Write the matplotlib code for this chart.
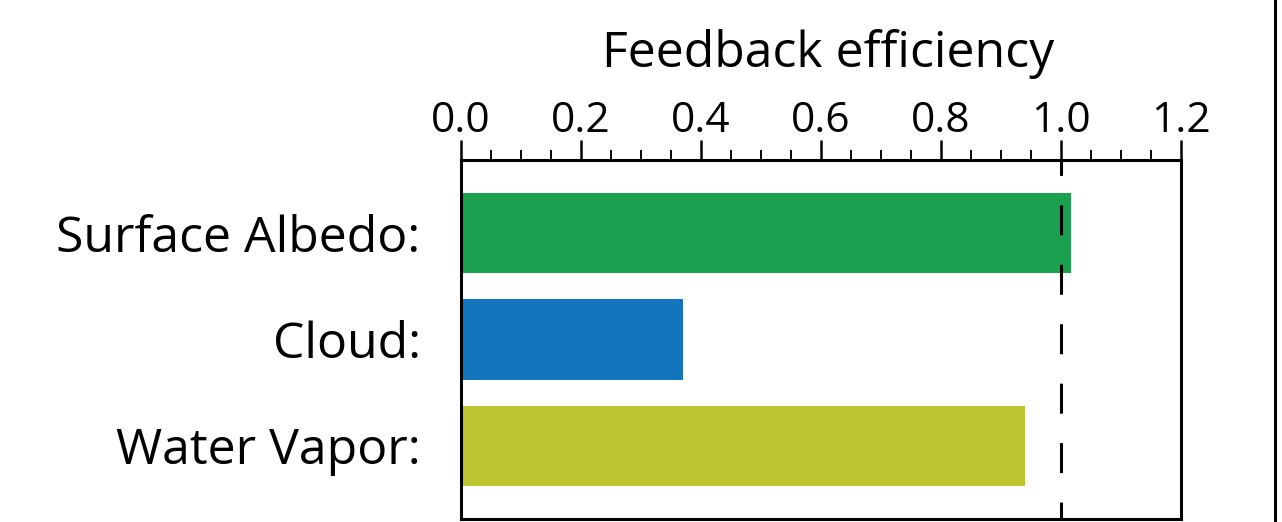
import matplotlib
matplotlib.use("Agg")
import matplotlib.pyplot as plt
from matplotlib.lines import Line2D
from matplotlib.ticker import MultipleLocator

plt.rcParams['font.family'] = ['Open Sans', 'DejaVu Sans']
plt.rcParams['lines.scale_dashes'] = False

# feedback efficiency per process
categories = ["Surface Albedo:", "Cloud:", "Water Vapor:"]
efficiency = [1.017, 0.37, 0.94]
bar_colors = ["#1ba04f", "#1375be", "#bcc432"]
xticks = [0.0, 0.2, 0.4, 0.6, 0.8, 1.0, 1.2]
xticklabels = ["0.0", "0.2", "0.4", "0.6", "0.8", "1.0", "1.2"]

fig = plt.figure(figsize=(12.82, 5.22), dpi=100)
ax = fig.add_axes([0.3596, 0.0057, 0.5616, 0.6878])

ypos = range(len(categories))
ax.barh(ypos, efficiency, height=0.755, color=bar_colors, zorder=2)
ax.axvline(1.0, color="black", lw=2.2, zorder=3,
           linestyle=(9.4, (21.6, 21.2)))

ax.set_xlim(0, 1.2)
ax.set_ylim(2.69, -0.69)
ax.set_yticks(list(ypos))
ax.set_yticklabels(categories, fontsize=36)
ax.tick_params(axis="y", length=0, pad=29)

ax.xaxis.tick_top()
ax.set_xticks(xticks)
ax.set_xticklabels(xticklabels, fontsize=30.5)
ax.xaxis.set_minor_locator(MultipleLocator(0.05))
ax.tick_params(axis="x", which="major", direction="out", length=14.4,
               width=1.8, pad=-1.5)
ax.tick_params(axis="x", which="minor", direction="out", length=7.2,
               width=1.4)

ax.xaxis.set_label_position("top")
ax.set_xlabel("Feedback efficiency", fontsize=36)
ax.xaxis.set_label_coords(0.51, 1.258)
ax.xaxis.label.set_va("baseline")

for spine in ax.spines.values():
    spine.set_linewidth(2.2)

# frame edge of the neighbouring panel
fig.add_artist(Line2D([1275 / 1282, 1275 / 1282], [0, 1],
                      transform=fig.transFigure, color="black", lw=2.2))

fig.savefig("out.png", dpi=100)
